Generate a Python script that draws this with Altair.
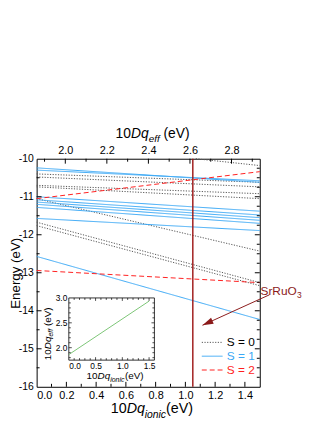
import altair as alt
import pandas as pd

# ---------------- data ----------------
S_labels = ["S = 0", "S = 1", "S = 2"]
S_colors = ["#555555", "#3aa8f5", "#ff1f1f"]
S_dashes = [[1.2, 1.5], [1, 0], [5, 3]]
S_widths = [1.0, 1.0, 1.4]

# S = 0 (dotted)
S0_x_start = [1.07, 0.0, 0.0, 0.0, 0.0, 0.0, 0.0, 0.0]
S0_y_start = [-10.00, -10.40, -10.48, -10.70, -10.74, -11.05, -11.67, -11.76]
S0_y_end = [-10.18, -10.62, -10.74, -10.92, -11.05, -12.43, -13.26, -13.34]
# S = 1 (solid blue)
S1_y_start = [-10.24, -10.30, -11.00, -11.08, -11.14, -11.20, -11.28, -11.57, -12.57]
S1_y_end = [-10.62, -10.58, -11.38, -11.48, -11.55, -11.62, -11.70, -11.89, -14.23]
# S = 2 (dashed red)
S2_y_start = [-11.05, -12.94]
S2_y_end = [-10.34, -13.26]
x_end = 1.5

srruo3_x = [1.05]
arrow_x = [1.565, 1.115]
arrow_E = [-13.58, -14.38]
label_x = [1.505]
label_E = [-13.47]

# inset: 10Dq_eff vs 10Dq_ionic
inset_ionic = [0.0, 1.5]
inset_eff = [1.862, 2.936]

# tick values
x_labels = [0.0, 0.2, 0.4, 0.6, 0.8, 1.0, 1.2, 1.4]
x_major_ticks = [0.2, 0.4, 0.6, 0.8, 1.0, 1.2, 1.4]
x_minor_ticks = [0.1, 0.3, 0.5, 0.7, 0.9, 1.1, 1.3]
y_labels = [-10, -11, -12, -13, -14, -15, -16]
y_major_ticks = [-11, -12, -13, -14, -15]
y_minor_ticks = [-10.5, -11.5, -12.5, -13.5, -14.5, -15.5]
y_right_minor = [-10.25, -10.5, -10.75, -11.25, -11.5, -11.75, -12.25, -12.5, -12.75,
                 -13.25, -13.5, -13.75, -14.25, -14.5, -14.75, -15.25, -15.5, -15.75]
eff_domain = [1.862, 2.936]
eff_labels = [2.0, 2.2, 2.4, 2.6, 2.8]
eff_minor = [1.9, 2.1, 2.3, 2.5, 2.7, 2.9]
inset_x_labels = [0.0, 0.5, 1.0, 1.5]
inset_x_major = [0.5, 1.0, 1.5]
inset_x_minor = [0.1, 0.2, 0.3, 0.4, 0.6, 0.7, 0.8, 0.9, 1.1, 1.2, 1.3, 1.4]
inset_y_labels = [2.0, 2.5, 3.0]
inset_y_major = [2.0, 2.5]
inset_y_minor = [1.8, 1.9, 2.1, 2.2, 2.3, 2.4, 2.6, 2.7, 2.8, 2.9]

# ---------------- layout ----------------
W, H = 226, 231
IX0, IX1, IY0, IY1 = 32.6, 119.3, 141, 204
FONT = "Liberation Sans"
DARKRED = "#8b1a1a"

rows = []
for i, (xs, a, b) in enumerate(zip(S0_x_start, S0_y_start, S0_y_end)):
    rows += [dict(id=f"s0_{i}", S=S_labels[0], x=xs, E=a), dict(id=f"s0_{i}", S=S_labels[0], x=x_end, E=b)]
for i, (a, b) in enumerate(zip(S1_y_start, S1_y_end)):
    rows += [dict(id=f"s1_{i}", S=S_labels[1], x=0.0, E=a), dict(id=f"s1_{i}", S=S_labels[1], x=x_end, E=b)]
for i, (a, b) in enumerate(zip(S2_y_start, S2_y_end)):
    rows += [dict(id=f"s2_{i}", S=S_labels[2], x=0.0, E=a), dict(id=f"s2_{i}", S=S_labels[2], x=x_end, E=b)]
df_lines = pd.DataFrame(rows)

main_xs = alt.Scale(domain=[0, 1.5], nice=False)
main_ys = alt.Scale(domain=[-16, -10], nice=False)
main_xa = alt.Axis(orient="bottom", values=x_labels, format=".1f", ticks=False, domain=False,
                   grid=False, labelPadding=3, labelFontSize=11, title=None)
main_ya = alt.Axis(orient="left", values=y_labels, labelExpr="'' + datum.value", ticks=False,
                   domain=False, grid=False, labelPadding=3.5, labelFontSize=10.5,
                   title="Energy (eV)", titleFontSize=13.5, titleFontWeight="normal",
                   titleX=-17.6, titleY=115.5, titleAngle=270, titleAlign="center",
                   titleBaseline="alphabetic")


def MX(f="x"):
    return alt.X(f"{f}:Q", scale=main_xs, axis=main_xa)


def MY(f="E"):
    return alt.Y(f"{f}:Q", scale=main_ys, axis=main_ya)


color_scale = alt.Scale(domain=S_labels, range=S_colors)
dash_scale = alt.Scale(domain=S_labels, range=S_dashes)

lines = alt.Chart(df_lines).mark_line().encode(
    x=MX(), y=MY(),
    color=alt.Color("S:N", scale=color_scale, legend=None),
    strokeDash=alt.StrokeDash("S:N", scale=dash_scale, legend=None),
    strokeWidth=alt.StrokeWidth("S:N", scale=alt.Scale(domain=S_labels, range=S_widths), legend=None),
    detail="id:N",
)

vline = alt.Chart(pd.DataFrame({"x": srruo3_x})).mark_rule(color="#9a0f0f", strokeWidth=1.4).encode(x=MX())
arrow = alt.Chart(pd.DataFrame({"x": arrow_x, "E": arrow_E})).mark_line(color=DARKRED, strokeWidth=1).encode(x=MX(), y=MY())
head = alt.Chart(pd.DataFrame({"x": arrow_x[1:], "E": arrow_E[1:]})).mark_point(
    shape="M0,0L-0.6,2L0.6,2Z", angle=245.7, size=121, filled=True, opacity=1, color=DARKRED
).encode(x=MX(), y=MY())
lab = alt.Chart(pd.DataFrame({"x": label_x, "E": label_E})).mark_text(
    text="SrRuO", align="left", baseline="middle", fontSize=12, color=DARKRED, font=FONT
).encode(x=MX(), y=MY())
lab3 = alt.Chart(pd.DataFrame({"x": label_x, "E": label_E})).mark_text(
    text="3", align="left", baseline="middle", fontSize=8.5, color=DARKRED, dx=37, dy=4, font=FONT
).encode(x=MX(), y=MY())


def xticks(vals, length, top=False, field="x", X=MX):
    y0 = 0 if top else H
    y1 = length if top else H - length
    return alt.Chart(pd.DataFrame({field: vals})).mark_rule(color="black", strokeWidth=1).encode(
        x=X(field), y=alt.value(y0), y2=alt.value(y1))


def yticks(vals, length, right=False, field="E", Y=MY, x0=0, x1=W):
    a = x1 if right else x0
    b = (x1 - length) if right else (x0 + length)
    return alt.Chart(pd.DataFrame({field: vals})).mark_rule(color="black", strokeWidth=1).encode(
        y=Y(field), x=alt.value(a), x2=alt.value(b))


main = alt.layer(
    lines, vline, arrow, head, lab, lab3,
    xticks(x_major_ticks, 5), xticks(x_minor_ticks, 3),
    yticks(y_major_ticks, 5), yticks(y_minor_ticks, 3),
    yticks(y_major_ticks, 5, right=True), yticks(y_right_minor, 3, right=True),
)

# top axis (10Dq_eff)
eff_s = alt.Scale(domain=eff_domain, nice=False)
eff_a = alt.Axis(orient="top", values=eff_labels, format=".1f", ticks=False, domain=False, grid=False,
                 labelPadding=3, labelFontSize=11, title=None)


def EX(f="eff"):
    return alt.X(f"{f}:Q", scale=eff_s, axis=eff_a)


top = alt.layer(
    xticks(eff_labels, 5, top=True, field="eff", X=EX),
    xticks(eff_minor, 3, top=True, field="eff", X=EX),
)

# inset
ix_s = alt.Scale(domain=[0, 1.6], range=[IX0, IX1], nice=False)
iy_s = alt.Scale(domain=[1.75, 3.0], range=[IY1, IY0], nice=False)
ix_a = alt.Axis(orient="bottom", offset=-(H - IY1), values=inset_x_labels, format=".1f", ticks=False,
                domain=False, grid=False, labelFontSize=8.5, labelPadding=1, title=None, zindex=1)
iy_a = alt.Axis(orient="left", offset=-IX0, values=inset_y_labels, format=".1f", ticks=False,
                domain=False, grid=False, labelFontSize=8.5, labelPadding=2, title=None, zindex=1)


def IXf(f="ix"):
    return alt.X(f"{f}:Q", scale=ix_s, axis=ix_a)


def IYf(f="iy"):
    return alt.Y(f"{f}:Q", scale=iy_s, axis=iy_a)


one = pd.DataFrame({"a": [0]})
frame = alt.Chart(one).mark_rect(fill="white", stroke="black", strokeWidth=0.8).encode(
    x=alt.value(IX0), x2=alt.value(IX1), y=alt.value(IY0), y2=alt.value(IY1))
inset_line = alt.Chart(pd.DataFrame({"ix": inset_ionic, "iy": inset_eff})).mark_line(
    color="#7cc576", strokeWidth=1).encode(x=IXf(), y=IYf())


def ixt(vals, length, top=False):
    a = IY0 if top else IY1
    b = (IY0 + length) if top else (IY1 - length)
    return alt.Chart(pd.DataFrame({"ix": vals})).mark_rule(color="black", strokeWidth=0.7).encode(
        x=IXf(), y=alt.value(a), y2=alt.value(b))


def iyt(vals, length, right=False):
    a = IX1 if right else IX0
    b = (IX1 - length) if right else (IX0 + length)
    return alt.Chart(pd.DataFrame({"iy": vals})).mark_rule(color="black", strokeWidth=0.7).encode(
        y=IYf(), x=alt.value(a), x2=alt.value(b))


inset = alt.layer(
    frame, inset_line,
    ixt(inset_x_major, 3), ixt(inset_x_minor, 2), ixt(inset_x_major, 3, True), ixt(inset_x_minor, 2, True),
    iyt(inset_y_major, 3), iyt(inset_y_minor, 2), iyt(inset_y_major, 3, True), iyt(inset_y_minor, 2, True),
)

# legend
leg_df = pd.DataFrame({"S": S_labels})
leg_y = alt.Y("S:N", scale=alt.Scale(type="point", domain=S_labels, range=[186, 214], padding=0), axis=None)
leg_lines = alt.Chart(leg_df).mark_rule().encode(
    y=leg_y, x=alt.value(167.3), x2=alt.value(188.3),
    color=alt.Color("S:N", scale=color_scale, legend=None),
    strokeDash=alt.StrokeDash("S:N", scale=dash_scale, legend=None),
    strokeWidth=alt.StrokeWidth("S:N", scale=alt.Scale(domain=S_labels, range=S_widths), legend=None),
)
leg_text = alt.Chart(leg_df).mark_text(align="left", baseline="middle", fontSize=12, font=FONT).encode(
    y=leg_y, x=alt.value(192.6), text="S:N",
    color=alt.condition(alt.datum.S == S_labels[0], alt.value("black"),
                        alt.Color("S:N", scale=color_scale, legend=None)),
)
legend = alt.layer(leg_lines, leg_text)


# rich-text axis titles
def piece(txt, x, y, size, italic=False, angle=0):
    kw = dict(text=txt, align="left", baseline="alphabetic", fontSize=size, font=FONT, color="black")
    if italic:
        kw["fontStyle"] = "italic"
    if angle:
        kw["angle"] = angle
    return alt.Chart(one).mark_text(**kw).encode(x=alt.value(x), y=alt.value(y))


titles = [
    # bottom
    piece("10", 75, 257.5, 14.5), piece("Dq", 91.2, 257.5, 14.5, True), piece("ionic", 109.5, 262.5, 10.5, True),
    piece("(eV)", 131, 257.5, 14.5),
    # top
    piece("10", 80, -20.5, 14), piece("Dq", 95.6, -20.5, 14, True), piece("eff", 113.5, -16.5, 10, True),
    piece("(eV)", 128.5, -20.5, 14),
    # inset x
    piece("10", 50.6, 223.5, 10), piece("Dq", 61.7, 223.5, 10, True), piece("ionic", 74.5, 226.5, 7, True),
    piece("(eV)", 89.4, 223.5, 10),
    # inset y
    piece("10", 14.3, 204, 10, angle=270), piece("Dq", 14.3, 192.9, 10, True, 270),
    piece("eff", 16.8, 180.1, 7, True, 270), piece("(eV)", 14.3, 169.5, 10, angle=270),
]

chart = alt.layer(main, top, inset, legend, *titles).resolve_scale(
    x="independent", y="independent"
).properties(
    width=W, height=H,
    autosize=alt.AutoSizeParams(type="none"),
    padding={"left": 29, "top": 150, "right": 60, "bottom": 34},
).configure_view(stroke="black", strokeWidth=1).configure_axis(
    labelFont=FONT, titleFont=FONT, labelColor="black", titleColor="black"
).configure_text(font=FONT)

chart.save("out.html", embed_options={"renderer": "svg", "actions": False})
